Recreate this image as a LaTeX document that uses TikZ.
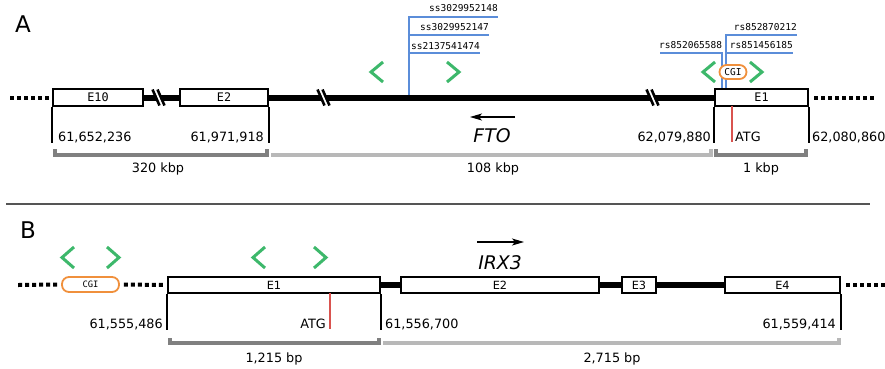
\documentclass[tikz,border=0pt]{standalone}
\usepackage{fontspec}
\setmainfont{DejaVu Sans}
\setmonofont{DejaVu Sans Mono}
\usetikzlibrary{arrows.meta}
\definecolor{snpblue}{HTML}{5B8DD9}
\definecolor{cgreen}{HTML}{3DB86B}
\definecolor{cgiorange}{HTML}{F0903C}
\definecolor{atgred}{HTML}{D9534F}
\definecolor{darkgr}{HTML}{808080}
\definecolor{lightgr}{HTML}{B8B8B8}
\definecolor{sepgr}{HTML}{555555}
\begin{document}
\begin{tikzpicture}[x=1pt,y=-1pt,
  exon/.style={draw=black, line width=2.2pt, fill=white, inner sep=0pt, minimum height=17pt, font=\ttfamily\fontsize{11.8}{12}\selectfont},
  exonB/.style={exon, minimum height=16pt, font=\fontsize{11.3}{12}\selectfont},
  intron/.style={line width=6pt},
  dotline/.style={line width=4pt, dash pattern=on 4pt off 3pt},
  vline/.style={line width=2pt},
  poslab/.style={inner sep=0pt, font=\fontsize{12.8}{13}\selectfont},
  chev/.style={draw=cgreen, line width=3pt},
  snp/.style={draw=snpblue, line width=2pt},
  snplab/.style={inner sep=0pt, font=\ttfamily\fontsize{9.5}{10}\selectfont},
  cgi/.style={draw=cgiorange, line width=1.8pt, fill=white, rounded corners=7pt, inner sep=0pt, font=\ttfamily\fontsize{8.8}{9}\selectfont},
  dkbr/.style={draw=darkgr, line width=4pt},
  ltbr/.style={draw=lightgr, line width=4pt},
  atg/.style={draw=atgred, line width=1.6pt},
  genelab/.style={inner sep=0pt, font=\itshape\fontsize{18.8}{19}\selectfont},
  panel/.style={inner sep=0pt, font=\fontsize{23}{24}\selectfont},
  garrow/.style={line width=1.1pt, -{Stealth[length=12pt,width=7pt,inset=3pt]}},
  brk/.pic={
    \draw[white, line width=2.6pt] (-3.5,-9) -- (3.5,9);
    \draw[black, line width=2.6pt] (-6,-8) -- (1,8);
    \draw[black, line width=2.6pt] (-1,-8) -- (6,8);
  }
]
\useasboundingbox (0,0) rectangle (885,368);

% ---------------- Panel A ----------------
\node[panel, anchor=base west] (pA) at (15,32) {A};

% SNP lines (left)
\coordinate (sA) at (409,95);
\draw[snp] (sA) -- (409,17) -- (498,17);
\draw[snp] (409,35) -- (489,35);
\draw[snp] (409,53) -- (480,53);
\node[snplab, anchor=base east] (ss1) at (498,11) {ss3029952148};
\node[snplab, anchor=base east] (ss2) at (489,30.5) {ss3029952147};
\node[snplab, anchor=base east] (ss3) at (480,49) {ss2137541474};

% SNP lines (right)
\draw[snp] (722,90) -- (722,53) -- (660,53);
\draw[snp] (726,90) -- (726,35) -- (797,35);
\draw[snp] (726,53) -- (793,53);
\node[snplab, anchor=base west] (rs1) at (659,48.5) {rs852065588};
\node[snplab, anchor=base east] (rs2) at (793,48.5) {rs851456185};
\node[snplab, anchor=base east] (rs3) at (797,30.5) {rs852870212};

% exons
\node[exon, minimum width=90pt] (aE10) at (98,97.5) {E10};
\node[exon, minimum width=88pt] (aE2) at (224,97.5) {E2};
\node[exon, minimum width=93pt] (aE1) at (761.5,97.5) {E1};

% introns
\draw[intron] (aE10.east) -- (aE2.west);
\draw[intron] (aE2.east) -- (aE1.west);
\pic at (158.5,97.5) {brk};
\pic at (323.5,97.5) {brk};
\pic at (652.5,97.5) {brk};

% dotted ends
\coordinate (dA1) at (10,97.5);
\coordinate (dA2) at (874,97.5);
\draw[dotline] ([xshift=-3pt]aE10.west) -- (dA1);
\draw[dotline] ([xshift=5pt]aE1.east) -- (dA2);

% CGI and chevrons
\node[cgi, minimum width=27pt, minimum height=14pt, font=\ttfamily\fontsize{9.5}{10}\selectfont] (cgiA) at (733,72) {CGI};
\draw[chev] (383,62) -- (371,72) -- (383,82);
\draw[chev] (447,62) -- (459,72) -- (447,82);
\draw[chev] (715,62) -- (703,72) -- (715,82);
\draw[chev] (750,62) -- (762,72) -- (750,82);

% vertical ticks
\draw[vline] (aE10.south west) -- ++(0,36);
\draw[vline] (aE2.south east) -- ++(0,36);
\draw[vline] (aE1.south west) -- ++(0,36);
\draw[vline] (aE1.south east) -- ++(0,36);
\draw[atg] (732,106) -- (732,142);

\node[poslab, anchor=base west] (pa1) at (58,141.5) {61,652,236};
\node[poslab, anchor=base east] (pa2) at (264,141.5) {61,971,918};
\node[poslab, anchor=base east] (pa3) at (711,141.5) {62,079,880};
\node[poslab, anchor=base west] (pa4) at (812,141.5) {62,080,860};
\node[poslab, anchor=base west] (atgA) at (735,141.5) {ATG};

% gene arrow
\coordinate (fa1) at (515,117);
\coordinate (fa2) at (470,117);
\draw[garrow] (fa1) -- (fa2);
\node[genelab, anchor=base] (fto) at (492,142.5) {FTO};

% brackets
\draw[dkbr] (55,149) -- (55,155) -- (267,155) -- (267,149);
\draw[ltbr] (271,155) -- (711,155) -- (711,149);
\draw[dkbr] (716,149) -- (716,155) -- (806,155) -- (806,149);
\node[poslab, anchor=base] (bA1) at (158,172.5) {320 kbp};
\node[poslab, anchor=base] (bA2) at (493,172.5) {108 kbp};
\node[poslab, anchor=base] (bA3) at (761,172.5) {1 kbp};

% separator
\coordinate (sep1) at (6,204);
\coordinate (sep2) at (870,204);
\draw[sepgr, line width=1.2pt] (sep1) -- (sep2);

% ---------------- Panel B ----------------
\node[panel, anchor=base west] (pB) at (20,238) {B};

\node[exonB, minimum width=212pt] (bE1) at (274,285) {E1};
\node[exonB, minimum width=198pt] (bE2) at (500,285) {E2};
\node[exonB, minimum width=34pt] (bE3) at (639,285) {E3};
\node[exonB, minimum width=115pt] (bE4) at (782.5,285) {E4};
\draw[intron] (bE1.east) -- (bE2.west);
\draw[intron] (bE2.east) -- (bE3.west);
\draw[intron] (bE3.east) -- (bE4.west);

\node[cgi, minimum width=57pt, minimum height=15pt] (cgiB) at (90.5,284.5) {CGI};
\coordinate (dB1) at (18,285);
\coordinate (dB2) at (886,285);
\draw[dotline] ([xshift=-4pt]cgiB.west) -- (dB1);
\draw[dotline] ([xshift=4pt]cgiB.east) -- ([xshift=-3pt]bE1.west);
\draw[dotline] ([xshift=5pt]bE4.east) -- (dB2);

\draw[chev] (74,247) -- (62,257.5) -- (74,268);
\draw[chev] (107,247) -- (119,257.5) -- (107,268);
\draw[chev] (265,247) -- (253,257.5) -- (265,268);
\draw[chev] (314,247) -- (326,257.5) -- (314,268);

\draw[vline] (bE1.south west) -- ++(0,36);
\draw[vline] (bE1.south east) -- ++(0,36);
\draw[vline] (bE4.south east) -- ++(0,36);
\draw[atg] (330,293) -- (330,329);

\node[poslab, anchor=base east] (pb1) at (163,328) {61,555,486};
\node[poslab, anchor=base west] (pb2) at (385,328) {61,556,700};
\node[poslab, anchor=base east] (pb3) at (836,328) {61,559,414};
\node[poslab, anchor=base east] (atgB) at (326,328) {ATG};

\coordinate (ia1) at (477,242);
\coordinate (ia2) at (524,242);
\draw[garrow] (ia1) -- (ia2);
\node[genelab, anchor=base] (irx) at (500,269) {IRX3};

\draw[dkbr] (170,338) -- (170,343) -- (379,343) -- (379,338);
\draw[ltbr] (383,343) -- (839,343) -- (839,338);
\node[poslab, anchor=base] (bB1) at (274,362.5) {1,215 bp};
\node[poslab, anchor=base] (bB2) at (612,362.5) {2,715 bp};
\end{tikzpicture}
\end{document}
